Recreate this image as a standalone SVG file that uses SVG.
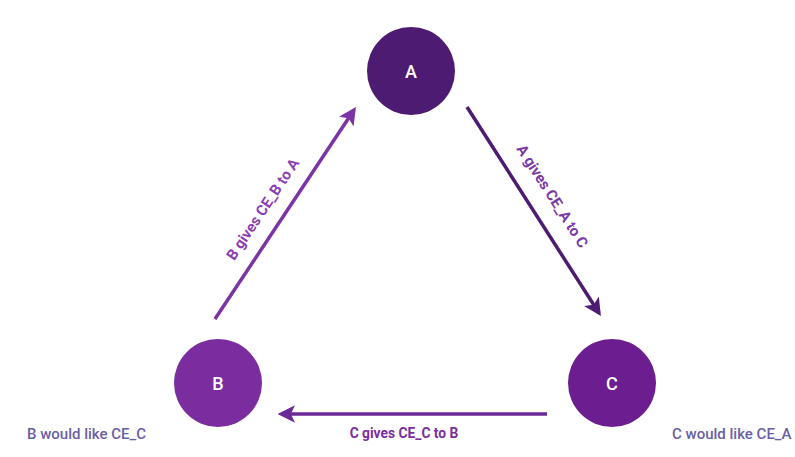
<svg xmlns="http://www.w3.org/2000/svg" width="795" height="457" viewBox="0 0 795 457">
<style>
.node-label{font-family:Roboto,"Liberation Sans",sans-serif;font-size:18px;font-weight:500;fill:#ffffff;text-anchor:middle}
.edge-label{font-family:Roboto,"Liberation Sans",sans-serif;font-size:15px;font-weight:bold;text-anchor:middle}
.note{font-family:Roboto,"Liberation Sans",sans-serif;font-size:15px;font-weight:500;fill:#6a5ea6}
.conn{fill:none;stroke-width:3.5}
</style>
<defs>
<marker id="ahA" markerWidth="5" markerHeight="5" refX="4" refY="2.5" orient="auto" markerUnits="strokeWidth"><path d="M0,0 L5,2.5 L0,5 L1.2,2.5 z" fill="#4e1b72"/></marker>
<marker id="ahB" markerWidth="5" markerHeight="5" refX="4" refY="2.5" orient="auto" markerUnits="strokeWidth"><path d="M0,0 L5,2.5 L0,5 L1.2,2.5 z" fill="#7c33a3"/></marker>
<marker id="ahC" markerWidth="5" markerHeight="5" refX="4" refY="2.5" orient="auto" markerUnits="strokeWidth"><path d="M0,0 L5,2.5 L0,5 L1.2,2.5 z" fill="#6c2896"/></marker>
</defs>
<rect width="795" height="457" fill="#ffffff"/>
<g id="connectors">
<line class="conn" x1="215" y1="319" x2="354" y2="110" stroke="#7c33a3" marker-end="url(#ahB)"/>
<line class="conn" x1="467" y1="107" x2="599" y2="313" stroke="#4e1b72" marker-end="url(#ahA)"/>
<line class="conn" x1="547" y1="414" x2="281" y2="414" stroke="#6c2896" marker-end="url(#ahC)"/>
<text class="edge-label" fill="#8a3fb3" transform="translate(267,212) rotate(-56.3)">B gives CE_B to A</text>
<text class="edge-label" fill="#7a3aa6" transform="translate(548,199) rotate(57.4)">A gives CE_A to C</text>
<text class="edge-label" fill="#7a2ea3" style="font-size:13.8px" x="404" y="438">C gives CE_C to B</text>
</g>
<g id="node-A">
<circle cx="411" cy="71" r="44" fill="#4e1b72"/>
<text class="node-label" x="411" y="78">A</text>
</g>
<g id="node-B">
<circle cx="218" cy="383" r="44" fill="#7b2c9f"/>
<text class="node-label" x="218" y="390">B</text>
</g>
<g id="node-C">
<circle cx="612" cy="383" r="44" fill="#6c1e91"/>
<text class="node-label" x="612" y="390">C</text>
</g>
<g id="notes">
<text class="note" x="27" y="439">B would like CE_C</text>
<text class="note" x="672" y="439">C would like CE_A</text>
</g>
</svg>
